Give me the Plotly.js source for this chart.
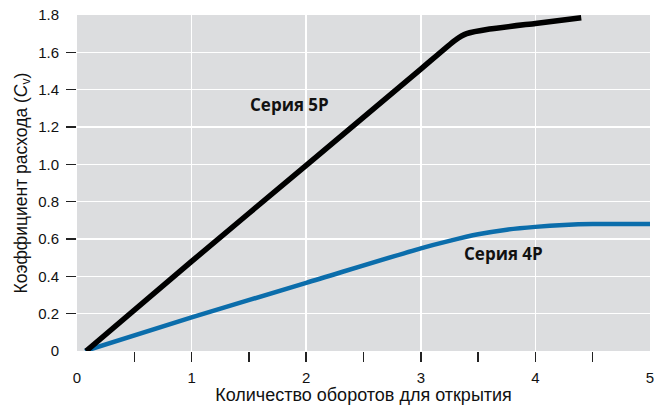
<!DOCTYPE html>
<html><head><meta charset="utf-8">
<script src="https://cdn.plot.ly/plotly-3.0.1.min.js"></script>
<style>html,body{margin:0;padding:0;background:#fff}#c{width:656px;height:405px}</style>
</head><body><div id="c"></div>
<script>
const turns5P = [0.08, 1, 2, 3, 3.3, 3.4, 3.6, 4, 4.4];
const cv5P    = [0, 0.48, 0.995, 1.51, 1.665, 1.70, 1.725, 1.755, 1.785];
const turns4P = [0.07, 1, 2, 3, 3.25, 3.5, 3.75, 4, 4.25, 4.5, 5];
const cv4P    = [0, 0.18, 0.365, 0.55, 0.59, 0.625, 0.65, 0.665, 0.675, 0.68, 0.68];
const xLabels = [0, 1, 2, 3, 4, 5];
const xMinorTicks = [0.5, 1, 1.5, 2, 2.5, 3, 3.5, 4, 4.5];
const yLabels = [0, 0.2, 0.4, 0.6, 0.8, 1.0, 1.2, 1.4, 1.6, 1.8];
const yLabelText = ['0','0.2','0.4','0.6','0.8','1.0','1.2','1.4','1.6','1.8'];
const yTicks = [0.2, 0.4, 0.6, 0.8, 1.0, 1.2, 1.4, 1.6];
const seriesNames = ['Серия 5P', 'Серия 4P'];

const tickFont = {family: 'Liberation Sans, Arial, sans-serif', size: 15, color: '#111'};
const data = [
  {x: turns4P, y: cv4P, mode: 'lines', line: {color: '#0b6dab', width: 4.5, shape: 'spline', smoothing: 0.8}, hoverinfo: 'skip'},
  {x: turns5P, y: cv5P, mode: 'lines', line: {color: '#000000', width: 5.5, shape: 'spline', smoothing: 0.5}, hoverinfo: 'skip'},
  {x: [0], y: [0], xaxis: 'x2', yaxis: 'y2', mode: 'markers', marker: {opacity: 0}, hoverinfo: 'skip'}
];
const layout = {
  width: 656, height: 405,
  margin: {l: 77, r: 6, t: 15, b: 54},
  paper_bgcolor: '#ffffff', plot_bgcolor: '#dcdddf',
  showlegend: false,
  xaxis: {
    range: [0, 5], tickvals: xLabels, ticktext: xLabels.map(String),
    ticks: 'outside', ticklen: 13, tickcolor: 'rgba(0,0,0,0)',
    showgrid: true, gridcolor: '#ffffff', gridwidth: 1.5,
    zeroline: false, showline: false, tickfont: tickFont,
    title: {text: 'Количество оборотов для открытия', font: {family: 'Liberation Sans, Arial, sans-serif', size: 18, color: '#111'}, standoff: 4}
  },
  xaxis2: {
    range: [0, 5], overlaying: 'x', anchor: 'y', side: 'bottom',
    tickvals: xMinorTicks, showticklabels: false,
    ticks: 'outside', ticklen: 10, tickwidth: 1.5, tickcolor: '#222',
    showgrid: false, zeroline: false, showline: false
  },
  yaxis: {
    range: [0, 1.8], tickvals: yLabels, ticktext: yLabelText,
    ticks: 'outside', ticklen: 14, tickcolor: 'rgba(0,0,0,0)',
    showgrid: true, gridcolor: '#ffffff', gridwidth: 1.5,
    zeroline: false, showline: false, tickfont: tickFont,
    title: {text: 'Коэффициент расхода (<i>C</i><sub>v</sub>)', font: {family: 'Liberation Sans, Arial, sans-serif', size: 17.5, color: '#111'}, standoff: 6}
  },
  yaxis2: {
    range: [0, 1.8], overlaying: 'y', anchor: 'x', side: 'left',
    tickvals: yTicks, showticklabels: false,
    ticks: 'outside', ticklen: 10, tickwidth: 1.5, tickcolor: '#222',
    showgrid: false, zeroline: false, showline: false
  },
  annotations: [
    {x: 1.85, y: 1.32, text: '<b>' + seriesNames[0] + '</b>', showarrow: false, font: {family: 'Open Sans, sans-serif', size: 17, color: '#111'}},
    {x: 3.72, y: 0.525, text: '<b>' + seriesNames[1] + '</b>', showarrow: false, font: {family: 'Open Sans, sans-serif', size: 17, color: '#111'}}
  ]
};
Plotly.newPlot('c', data, layout, {displayModeBar: false, staticPlot: true});
</script></body></html>
